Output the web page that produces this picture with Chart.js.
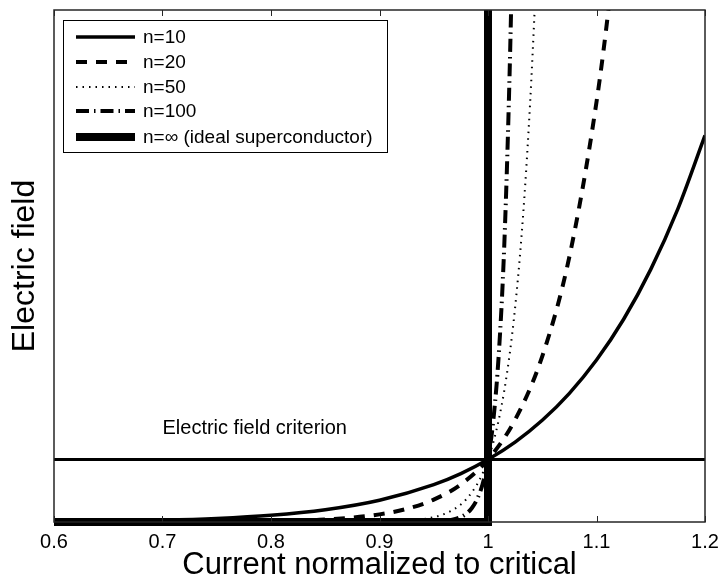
<!DOCTYPE html>
<html>
<head>
<meta charset="utf-8">
<script src="https://cdn.jsdelivr.net/npm/chart.js@4.4.0/dist/chart.umd.min.js"></script>
<style>
  html, body { margin: 0; padding: 0; background: #fff; }
</style>
</head>
<body>
<canvas id="grafica" width="722" height="584"></canvas>
<script>
// valores
const xTickValues = [0.6, 0.7, 0.8, 0.9, 1.0, 1.1, 1.2];
const xTickLabels = ['0.6', '0.7', '0.8', '0.9', '1', '1.1', '1.2'];

const xN10 = [0.6, 0.65, 0.7, 0.75, 0.8, 0.85, 0.9, 0.95, 0.975, 1.0, 1.025, 1.05, 1.075, 1.1, 1.125, 1.15, 1.175, 1.2];
const yN10 = [0.006, 0.014, 0.028, 0.056, 0.107, 0.197, 0.349, 0.599, 0.776, 1.0, 1.28, 1.629, 2.061, 2.594, 3.247, 4.046, 5.016, 6.192];

const xN20 = [0.6, 0.7, 0.8, 0.85, 0.9, 0.925, 0.95, 0.975, 1.0, 1.025, 1.05, 1.075, 1.1, 1.1125, 1.125];
const yN20 = [0.0, 0.001, 0.012, 0.039, 0.122, 0.21, 0.358, 0.603, 1.0, 1.639, 2.653, 4.248, 6.727, 8.43, 10.54];

const xN50 = [0.6, 0.85, 0.9, 0.93, 0.95, 0.96, 0.97, 0.98, 0.99, 0.995, 1.0, 1.005, 1.01, 1.015, 1.02, 1.025, 1.03, 1.035, 1.04, 1.045, 1.05];
const yN50 = [0, 0.0003, 0.005, 0.027, 0.077, 0.13, 0.218, 0.364, 0.605, 0.778, 1.0, 1.283, 1.645, 2.105, 2.692, 3.437, 4.384, 5.585, 7.107, 9.03, 11.47];

const xN100 = [0.6, 0.9, 0.95, 0.96, 0.97, 0.975, 0.98, 0.985, 0.99, 0.995, 1.0, 1.005, 1.01, 1.015, 1.02, 1.0225, 1.025];
const yN100 = [0, 0, 0.006, 0.017, 0.048, 0.08, 0.133, 0.221, 0.366, 0.606, 1.0, 1.647, 2.705, 4.432, 7.245, 9.25, 11.81];

const xIdeal = [0.6, 1.0, 1.0];
const yIdeal = [0, 0, 10];

const xCriterio = [0.6, 1.2];
const yCriterio = [1, 1];

const etiquetas = ['n=10', 'n=20', 'n=50', 'n=100', 'n=\u221E (ideal superconductor)'];

function puntos(xs, ys) {
    return xs.map((x, i) => ({ x: x, y: ys[i] }));
}

const fuente = '"Liberation Sans", Arial, Helvetica, sans-serif';

const curvas = [
    { label: etiquetas[0], data: puntos(xN10, yN10), borderWidth: 3.5, borderDash: [], order: 5 },
    { label: etiquetas[1], data: puntos(xN20, yN20), borderWidth: 4, borderDash: [11, 9], order: 4 },
    { label: etiquetas[2], data: puntos(xN50, yN50), borderWidth: 2, borderDash: [1.5, 5], order: 3 },
    { label: etiquetas[3], data: puntos(xN100, yN100), borderWidth: 4, borderDash: [13, 5, 1.5, 5], order: 2 },
    { label: etiquetas[4], data: puntos(xIdeal, yIdeal), borderWidth: 8, borderDash: [], order: 0, tension: 0,
      clip: { left: 0, top: 0, right: 0, bottom: 5 } }
];

const datasets = curvas.map(c => Object.assign({
    borderColor: '#000',
    backgroundColor: '#000',
    pointRadius: 0,
    fill: false,
    cubicInterpolationMode: 'monotone'
}, c));

datasets.push({
    label: 'criterion',
    data: puntos(xCriterio, yCriterio),
    borderColor: '#000',
    borderWidth: 3,
    pointRadius: 0,
    fill: false,
    order: 1
});

// caja, marcas, leyenda y texto del criterio
const extras = {
    id: 'extras',
    afterDatasetsDraw(chart) {
        const ctx = chart.ctx;
        const a = chart.chartArea;
        const sx = chart.scales.x;
        const sy = chart.scales.y;
        ctx.save();

        // texto del criterio
        ctx.fillStyle = '#000';
        ctx.font = '20px ' + fuente;
        ctx.textAlign = 'center';
        ctx.textBaseline = 'middle';
        ctx.fillText('Electric field criterion', sx.getPixelForValue(0.785), sy.getPixelForValue(1.5));

        // marco
        ctx.strokeStyle = '#262626';
        ctx.lineWidth = 1.5;
        ctx.setLineDash([]);
        ctx.strokeRect(a.left, a.top, a.right - a.left, a.bottom - a.top);

        // marcas hacia dentro
        ctx.lineWidth = 1;
        xTickValues.forEach(v => {
            const px = Math.round(sx.getPixelForValue(v)) + 0.5;
            ctx.beginPath();
            ctx.moveTo(px, a.bottom);
            ctx.lineTo(px, a.bottom - 6);
            ctx.moveTo(px, a.top);
            ctx.lineTo(px, a.top + 6);
            ctx.stroke();
        });

        // leyenda
        const bx = a.left + 9, by = a.top + 10, bw = 324, bh = 132;
        ctx.fillStyle = '#fff';
        ctx.fillRect(bx, by, bw, bh);
        ctx.strokeStyle = '#000';
        ctx.lineWidth = 1;
        ctx.strokeRect(bx + 0.5, by + 0.5, bw, bh);
        const filas = [17, 42, 67, 91, 117];
        curvas.forEach((c, i) => {
            const y = by + filas[i];
            ctx.strokeStyle = '#000';
            ctx.lineWidth = c.borderWidth;
            ctx.setLineDash(c.borderDash);
            ctx.beginPath();
            ctx.moveTo(bx + 13, y);
            ctx.lineTo(bx + 72, y);
            ctx.stroke();
            ctx.setLineDash([]);
            ctx.fillStyle = '#000';
            ctx.font = '19px ' + fuente;
            ctx.textAlign = 'left';
            ctx.textBaseline = 'middle';
            ctx.fillText(c.label, bx + 80, y + 1);
        });
        ctx.restore();
    }
};

const ctx = document.getElementById('grafica').getContext('2d');
new Chart(ctx, {
    type: 'line',
    data: { datasets: datasets },
    options: {
        responsive: false,
        animation: false,
        layout: { padding: { top: 10, right: 17, left: 0, bottom: 0 } },
        plugins: {
            legend: { display: false },
            tooltip: { enabled: false }
        },
        scales: {
            x: {
                type: 'linear',
                min: 0.6,
                max: 1.2,
                grid: { display: false },
                border: { display: false },
                afterBuildTicks: s => { s.ticks = xTickValues.map(v => ({ value: v })); },
                afterFit: s => { s.height = 62; s.paddingRight = 0; s.paddingLeft = 0; },
                ticks: {
                    padding: 0,
                    color: '#000',
                    maxRotation: 0,
                    font: { family: fuente, size: 20 },
                    callback: (v) => {
                        const i = xTickValues.findIndex(t => Math.abs(t - v) < 1e-9);
                        return i >= 0 ? xTickLabels[i] : '';
                    }
                },
                title: {
                    display: true,
                    text: 'Current normalized to critical',
                    color: '#000',
                    font: { family: fuente, size: 31, lineHeight: 1.2 },
                    padding: { top: 0, bottom: 0 }
                }
            },
            y: {
                type: 'linear',
                min: 0,
                max: 8.2,
                grid: { display: false },
                border: { display: false },
                ticks: { display: false },
                afterFit: s => { s.width = 54; },
                title: {
                    display: true,
                    text: 'Electric field',
                    color: '#000',
                    font: { family: fuente, size: 32, lineHeight: 1.2 },
                    padding: { top: 6, bottom: 0 }
                }
            }
        }
    },
    plugins: [extras]
});
</script>
</body>
</html>
